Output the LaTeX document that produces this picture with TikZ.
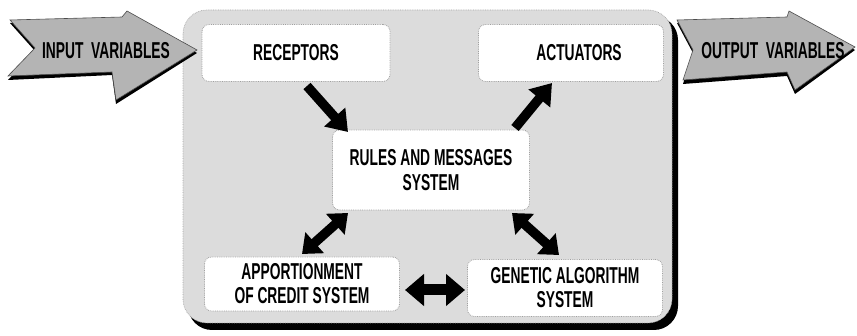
\documentclass[tikz,border=0pt]{standalone}
\usepackage{fontspec}
\newfontfamily\df{Liberation Sans Bold}[FakeStretch=0.6]
\usetikzlibrary{arrows.meta}
\definecolor{panel}{HTML}{DCDCDC}
\definecolor{arrowgray}{HTML}{B4B4B4}
\tikzset{
  box/.style={draw=gray!75, densely dotted, line width=0.8pt, fill=white, rounded corners=7pt,
    align=center, font=\df\fontsize{23}{24}\selectfont, inner sep=0pt},
  fat/.style={line width=9.5pt, -{Triangle[width=27pt,length=20pt]}},
  fatboth/.style={line width=9.5pt, {Triangle[width=27pt,length=17pt]}-{Triangle[width=27pt,length=17pt]}},
  bigarrow/.style={fill=arrowgray, draw=gray!60!black, line width=0.6pt},
  arrowshadow/.style={fill=black},
  lbl/.style={font=\df\fontsize{23}{24}\selectfont, inner sep=0pt}
}
\begin{document}
\begin{tikzpicture}[x=1pt,y=-1pt]
\useasboundingbox (0,0) rectangle (857,336);
\fill[white] (0,0) rectangle (857,336);
% main panel with shadow
\fill[black, rounded corners=24pt] (188,16) rectangle (678,330);
\fill[panel, rounded corners=24pt] (183,10) rectangle (672,323);
\draw[gray!70, densely dotted, line width=0.7pt, rounded corners=24pt] (183,10) rectangle (672,323);
% input arrow
\fill[arrowshadow] (10,23) -- (122,20) -- (127,14) -- (197,53) -- (116,104) -- (112,75) -- (8,80) -- (35,51) -- cycle;
\path[bigarrow] (10,20) -- (122,17) -- (127,11) -- (197,50) -- (116,100) -- (112,72) -- (8,76) -- (35,48) -- cycle;
\node[lbl] (inp) at (106,51) {INPUT\ \ VARIABLES};
% output arrow
\fill[arrowshadow] (677,23) -- (787,20) -- (789,14) -- (855,50) -- (795,94) -- (787,76) -- (683,84) -- (693,53) -- cycle;
\path[bigarrow] (677,20) -- (787,17) -- (789,11) -- (855,47) -- (795,90) -- (787,72) -- (683,80) -- (693,50) -- cycle;
\node[lbl] (outp) at (773,51) {OUTPUT\ \ VARIABLES};
% boxes
\node[box, minimum width=188pt, minimum height=57pt] (rec) at (296,53) {RECEPTORS};
\node[box, minimum width=185pt, minimum height=57pt] (act) at (571,53) {\hspace*{16pt}ACTUATORS};
\node[box, minimum width=197pt, minimum height=80pt] (rules) at (431,170) {RULES AND MESSAGES\\[1pt]SYSTEM};
\node[box, minimum width=195pt, minimum height=54pt] (app) at (302,284) {APPORTIONMENT\\OF CREDIT SYSTEM};
\node[box, minimum width=195pt, minimum height=57pt] (gen) at (565,288) {GENETIC ALGORITHM\\SYSTEM};
% connector end points
\coordinate (a1s) at (307,86);
\coordinate (a1e) at (348,132);
\coordinate (a2s) at (515,128);
\coordinate (a2e) at (552,83);
\coordinate (a3s) at (302,254);
\coordinate (a3e) at (348,213);
\coordinate (a4s) at (512,213);
\coordinate (a4e) at (559,255);
\coordinate (a5s) at (405,290);
\coordinate (a5e) at (465,290);
\draw[fat] (a1s) -- (a1e);
\draw[fat] (a2s) -- (a2e);
\draw[fatboth] (a3s) -- (a3e);
\draw[fatboth] (a4s) -- (a4e);
\draw[fatboth, line width=11pt, {Triangle[width=31pt,length=19pt]}-{Triangle[width=31pt,length=19pt]}] (a5s) -- (a5e);
\end{tikzpicture}
\end{document}
